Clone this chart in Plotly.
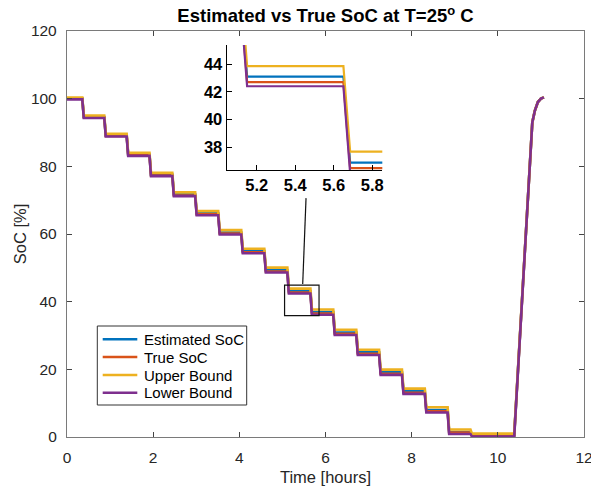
import plotly.graph_objects as go

# ---- data -------------------------------------------------------------
# pulse discharge: start / end time of every current pulse [hours]
STEP_START = [0.355, 0.865, 1.385, 1.915, 2.445, 2.975, 3.51, 4.045, 4.58,
              5.115, 5.65, 6.18, 6.715, 7.245, 7.775, 8.305, 8.835, 9.365]
STEP_END = [0.39, 0.90, 1.42, 1.95, 2.48, 3.01, 3.545, 4.08, 4.615,
            5.15, 5.685, 6.215, 6.75, 7.28, 7.81, 8.34, 8.87, 9.40]

# SoC held during each rest period [%]
EST_SOC = [100.0, 94.6, 89.15, 83.5, 77.55, 71.7, 66.1, 60.45, 54.95, 49.3,
           43.1, 36.9, 30.9, 25.0, 19.1, 13.5, 8.0, 1.5, 0.5]
TRUE_SOC = [100.0, 94.5, 89.0, 83.3, 77.3, 71.4, 65.8, 60.1, 54.6, 48.9,
            42.7, 36.5, 30.5, 24.6, 18.7, 13.1, 7.6, 1.3, 0.4]
UPPER_SOC = [100.3, 95.0, 89.6, 84.0, 78.1, 72.3, 66.75, 61.15, 55.65, 50.05,
             43.85, 37.7, 31.7, 25.8, 19.9, 14.3, 8.8, 2.2, 1.0]
LOWER_SOC = [99.8, 94.3, 88.8, 83.1, 77.1, 71.2, 65.55, 59.85, 54.3, 48.6,
             42.4, 36.15, 30.15, 24.25, 18.35, 12.75, 7.25, 0.9, 0.1]

# recharge at the end of the test
CHARGE_T = [10.38, 10.80, 10.86, 10.93, 11.0, 11.07]
CHARGE_SOC = [93.0, 96.5, 99.0, 100.0, 100.4]

SERIES = [
    ("Estimated SoC", EST_SOC, "#0072BD"),
    ("True SoC", TRUE_SOC, "#D95319"),
    ("Upper Bound", UPPER_SOC, "#EDB120"),
    ("Lower Bound", LOWER_SOC, "#7E2F8E"),
]

X_TICKS = [0, 2, 4, 6, 8, 10, 12]
Y_TICKS = [0, 20, 40, 60, 80, 100, 120]
ZOOM_X_TICKS = [5.2, 5.4, 5.6, 5.8]
ZOOM_Y_TICKS = [38, 40, 42, 44]


def profile(levels):
    xs, ys = [0.0], [levels[0]]
    for k, (a, b) in enumerate(zip(STEP_START, STEP_END)):
        xs += [a, b]
        ys += [levels[k], levels[k + 1]]
    xs.append(CHARGE_T[0])
    ys.append(levels[-1])
    xs += CHARGE_T[1:]
    ys += CHARGE_SOC
    return xs, ys


# ---- geometry (pixels) ----------------------------------------------
W, H = 591, 488
L, R, T, B = 67, 584, 31, 437


def px(p):
    return (p - L) / (R - L)


def py(p):
    return (B - p) / (B - T)


FONT = "Liberation Sans"
DARK = "#262626"

fig = go.Figure()
for name, lv, col in SERIES:
    xs, ys = profile(lv)
    fig.add_trace(go.Scatter(x=xs, y=ys, mode="lines", name=name,
                             line=dict(color=col, width=2.6),
                             xaxis="x", yaxis="y", showlegend=False))
for name, lv, col in SERIES:
    xs, ys = profile(lv)
    fig.add_trace(go.Scatter(x=xs, y=ys, mode="lines", name=name,
                             line=dict(color=col, width=2.2),
                             xaxis="x2", yaxis="y2", showlegend=False))

main_ax = dict(showline=True, linecolor="#7a7a7a", linewidth=1.3, mirror="ticks",
               ticks="inside", ticklen=5, tickcolor="#444", tickwidth=1,
               showgrid=False, zeroline=False, automargin=False,
               ticklabeloverflow="allow",
               tickfont=dict(family=FONT, size=15.5, color=DARK))
inset_ax = dict(showline=True, linecolor="#000", linewidth=1.3, mirror=False,
                ticks="inside", ticklen=5, tickcolor="#000", tickwidth=1,
                showgrid=False, zeroline=False, automargin=False,
                tickfont=dict(family=FONT, size=16.5, color="#000", weight="bold"))

fig.update_layout(
    width=W, height=H,
    margin=dict(l=L, r=W - R, t=T, b=H - B, pad=0, autoexpand=False),
    paper_bgcolor="white", plot_bgcolor="white",
    title=dict(text="Estimated vs True SoC at T=25<sup>o</sup> C",
               font=dict(family=FONT, size=18.5, color="#000", weight="bold"),
               x=px(325.5), xanchor="center", xref="paper",
               y=1 - 16 / H, yanchor="middle", yref="container"),
    xaxis=dict(main_ax, range=[0, 12], tickvals=X_TICKS, ticklabelstandoff=6,
               title=dict(text="Time [hours]", standoff=6,
                          font=dict(family=FONT, size=16.5, color=DARK))),
    yaxis=dict(main_ax, range=[0, 120], tickvals=Y_TICKS, ticklabelstandoff=6,
               title=dict(text="SoC [%]", standoff=0,
                          font=dict(family=FONT, size=16.5, color=DARK))),
    xaxis2=dict(inset_ax, domain=[px(226.7), px(382.3)], anchor="y2",
                range=[5.044, 5.852], tickvals=ZOOM_X_TICKS, tickformat=".1f"),
    yaxis2=dict(inset_ax, domain=[py(170), py(45)], anchor="x2",
                range=[36.37, 45.37], tickvals=ZOOM_Y_TICKS),
)

# zoom box on the main axes and its connector to the inset
fig.add_shape(type="rect", xref="x", yref="y", x0=5.05, x1=5.85, y0=35.9, y1=44.9,
              line=dict(color="#111", width=1.2), fillcolor="rgba(0,0,0,0)")
fig.add_shape(type="line", xref="x", yref="y", x0=5.471, y0=45.2, x1=5.548, y1=70.6,
              line=dict(color="#111", width=1.2))

# legend
LEG_L, LEG_R, LEG_T, LEG_B = 97.3, 246.7, 326, 405
fig.add_shape(type="rect", xref="paper", yref="paper",
              x0=px(LEG_L), x1=px(LEG_R), y0=py(LEG_B), y1=py(LEG_T),
              line=dict(color="#333", width=1), fillcolor="white")
rows = [339.3, 357.0, 375.0, 392.7]
for (name, _, col), ry in zip(SERIES, rows):
    fig.add_shape(type="line", xref="paper", yref="paper",
                  x0=px(102.7), x1=px(137.3), y0=py(ry), y1=py(ry),
                  line=dict(color=col, width=2.6))
    fig.add_annotation(text=name, xref="paper", yref="paper",
                       x=px(141.5), y=py(ry), xanchor="left", yanchor="middle",
                       showarrow=False,
                       font=dict(family=FONT, size=15, color="#000"))

fig.write_html("out.html")
